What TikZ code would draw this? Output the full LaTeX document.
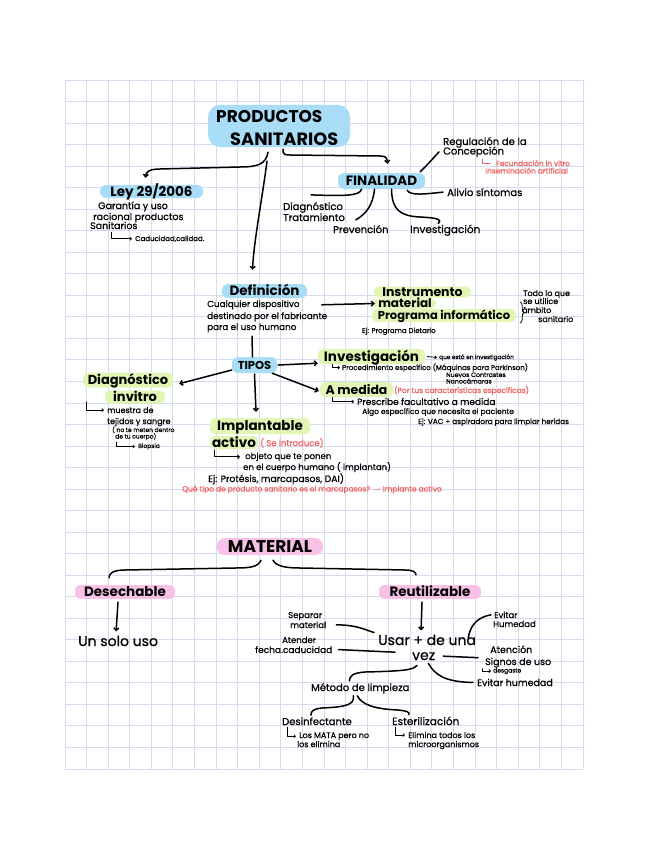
\documentclass[tikz,border=0pt]{standalone}
\usepackage{fontspec}
\setmainfont{Poppins}
\newfontfamily\hw{Poppins}[FakeBold=0.6]
\usetikzlibrary{arrows.meta,decorations.pathreplacing}
\newcommand\myfs[1]{\fontsize{#1}{#1}\selectfont}
\definecolor{hlblue}{HTML}{A9DDF7}
\definecolor{hlgreen}{HTML}{E2F5B5}
\definecolor{hlpink}{HTML}{F8C2E8}
\definecolor{redtxt}{HTML}{F0605F}
\definecolor{gridc}{HTML}{D3DCEE}
\begin{document}
\begin{tikzpicture}[x=1pt,y=-1pt,
  pill/.style={inner sep=0pt, text depth=0pt, align=center},
  bl/.style={pill, fill=hlblue, rounded corners=6pt},
  gr/.style={pill, fill=hlgreen, rounded corners=5pt},
  pk/.style={pill, fill=hlpink, rounded corners=6pt},
  txt/.style={inner sep=0pt, anchor=base west},
  red/.style={text=redtxt},
  con/.style={line width=1.5pt, line cap=round, line join=round},
  thin/.style={line width=0.8pt, line cap=round, line join=round},
  arr/.style={-{Straight Barb[length=2.5pt,width=5pt]}},
  sarr/.style={-{Straight Barb[length=1.6pt,width=3pt]}}
]
\useasboundingbox (0,0) rectangle (648,848);
\fill[white] (0,0) rectangle (648,848);
% grid
\foreach \i in {0,...,24} \draw[gridc, line width=0.9pt] (65+\i*21.583,80) -- (65+\i*21.583,769);
\foreach \j in {0,...,32} \draw[gridc, line width=0.9pt] (65,80+\j*21.531) -- (583,80+\j*21.531);

% ---------- title
\node[pill, fill=hlblue, rounded corners=12pt, minimum width=142pt, minimum height=42pt] (title) at (279,126) {};
\node[txt, font=\bfseries\myfs{17}] (t1) at (216,123) {PRODUCTOS};
\node[txt, font=\bfseries\myfs{17.8}] (t2) at (230,145) {SANITARIOS};

% ---------- Ley
\node[bl, minimum width=103pt, minimum height=13pt, text height=9.5pt, font=\bfseries\myfs{13.5}] (ley) at (151.5,191.5) {Ley 29/2006};
\node[txt, font=\hw\myfs{9.5}] (g1) at (98,209) {Garantía y uso};
\node[txt, font=\hw\myfs{9.5}] (g2) at (93,220) {racional productos};
\node[txt, font=\hw\myfs{9.5}] (g3) at (90,229) {Sanitarios};
\node[txt, font=\hw\myfs{7}] (cad) at (135,241) {Caducidad,calidad.};

% ---------- Finalidad
\node[bl, minimum width=87pt, minimum height=16pt, text height=9.6pt, font=\bfseries\myfs{13.5}] (fin) at (381.5,181) {FINALIDAD};
\node[txt, font=\hw\myfs{10}] (reg1) at (443,145) {Regulación de la};
\node[txt, font=\hw\myfs{10}] (reg2) at (443,154.5) {Concepción};
\node[txt, red, font=\hw\myfs{7.3}] (fec) at (496,166) {Fecundación in vitro};
\node[txt, red, font=\hw\myfs{7.5}] (ins) at (485,173.5) {Inseminación artificial};
\node[txt, font=\hw\myfs{10}] (aliv) at (447,196) {Alivio síntomas};
\node[txt, font=\hw\myfs{10}] (fdiag) at (283,210) {Diagnóstico};
\node[txt, font=\hw\myfs{10}] (ftrat) at (283,221) {Tratamiento};
\node[txt, font=\hw\myfs{10}] (prev) at (333,233) {Prevención};
\node[txt, font=\hw\myfs{10.5}] (finv) at (410,233) {Investigación};

% ---------- Definicion
\node[bl, minimum width=85pt, minimum height=14pt, text height=9.5pt, font=\bfseries\myfs{13.5}] (def) at (264.5,291) {Definición};
\node[txt, font=\hw\myfs{8.8}] (dl1) at (207,307) {Cualquier dispositivo};
\node[txt, font=\hw\myfs{8.8}] (dl2) at (207,319) {destinado por el fabricante};
\node[txt, font=\hw\myfs{8.8}] (dl3) at (207,330) {para el uso humano};

\node[gr, minimum width=97pt, minimum height=11pt, text height=8.6pt, font=\bfseries\myfs{12.5}] (instr1) at (422.5,292) {Instrumento};
\node[gr, minimum width=62pt, minimum height=9.5pt, text height=8.3pt, font=\bfseries\myfs{12}] (instr2) at (405,303.5) {material};
\node[gr, minimum width=144pt, minimum height=13pt, text height=8pt, font=\bfseries\myfs{11.5}] (instr3) at (444,315.5) {Programa informático};
\node[txt, font=\hw\myfs{8}] (todo1) at (523,296) {Todo lo que};
\node[txt, font=\hw\myfs{8}] (todo2) at (523,304) {se utilice};
\node[txt, font=\hw\myfs{8}] (todo3) at (522,313) {ámbito};
\node[txt, font=\hw\myfs{8}] (todo4) at (538,322) {sanitario};
\node[txt, font=\hw\myfs{7}] (ejp) at (362,333) {Ej: Programa Dietario};
\draw[thin, decorate, decoration={brace, amplitude=4pt}] ([xshift=4pt,yshift=7pt]instr3.north east) -- ([xshift=4pt,yshift=-1pt]instr3.south east);

% ---------- Tipos
\node[bl, minimum width=45pt, minimum height=16pt, text height=8.3pt, font=\bfseries\myfs{11.5}] (tipos) at (254.5,365) {TIPOS};

\node[gr, minimum width=107pt, minimum height=15pt, text height=9.6pt, font=\bfseries\myfs{13.5}] (inv) at (371.5,356.5) {Investigación};
\node[txt, font=\hw\myfs{5.8}] (qinv) at (439,359) {que está en investigación};
\node[txt, font=\hw\myfs{7}] (proc) at (342,370) {Procedimiento específico (Máquinas para Parkinson)};
\node[txt, font=\hw\myfs{6.3}] (nue) at (446,377) {Nuevos Contrastes};
\node[txt, font=\hw\myfs{6.3}] (nano) at (446,383.5) {Nanocámaras};

\node[gr, minimum width=73pt, minimum height=15pt, text height=9pt, font=\bfseries\myfs{12.5}] (amed) at (356.5,389.5) {A medida};
\node[txt, red, font=\hw\myfs{7.5}] (por) at (394,393) {(Por tus características específicas)};
\node[txt, font=\hw\myfs{9}] (presc) at (357,405) {Prescribe facultativo a medida};
\node[txt, font=\hw\myfs{7.5}] (algo) at (362,414) {Algo específico que necesita el paciente};
\node[txt, font=\hw\myfs{7.3}] (ejvac) at (418,424) {Ej: VAC + aspiradora para limpiar heridas};

\node[gr, minimum width=90pt, minimum height=15pt, text height=9.3pt, font=\bfseries\myfs{13}] (diag1) at (128,380) {Diagnóstico};
\node[gr, minimum width=60pt, minimum height=13pt, text height=9.3pt, font=\bfseries\myfs{13}] (diag2) at (135,397) {invitro};
\node[txt, font=\hw\myfs{8}] (mue) at (107,413) {muestra de};
\node[txt, font=\hw\myfs{8}] (tej) at (107,424) {tejidos y sangre};
\node[txt, font=\hw\myfs{6}] (cue1) at (112,432) {( no te meten dentro};
\node[txt, font=\hw\myfs{6}] (cue2) at (115,438.5) {de tu cuerpo)};
\node[txt, font=\hw\myfs{6}] (bio) at (138,448) {Biopsia};

\node[gr, minimum width=100pt, minimum height=16pt, text height=9.7pt, font=\bfseries\myfs{13.5}] (impl1) at (260,426) {Implantable};
\node[gr, minimum width=48pt, minimum height=13pt, text height=9.7pt, font=\bfseries\myfs{13.5}] (impl2) at (234,442.5) {activo};
\node[txt, red, font=\hw\myfs{8.5}] (seint) at (260,446) {( Se introduce)};
\node[txt, font=\hw\myfs{8.5}] (obj) at (245,459) {objeto que te ponen};
\node[txt, font=\hw\myfs{8.5}] (encu) at (243,470) {en el cuerpo humano ( implantan)};
\node[txt, font=\hw\myfs{9.3}] (ejpro) at (208,482) {Ej: Protésis, marcapasos, DAI)};
\node[txt, red, font=\hw\myfs{7.5}] (que) at (182,491.5) {Qué tipo de producto sanitario es el marcapasos? $\rightarrow$ Implante activo};

% ---------- Material
\node[pk, minimum width=106pt, minimum height=17pt, text height=12.2pt, rounded corners=8pt, font=\bfseries\myfs{17}] (mat) at (270,546.5) {MATERIAL};
\node[pk, minimum width=100pt, minimum height=14pt, text height=9.5pt, font=\bfseries\myfs{13.5}] (desech) at (125,592) {Desechable};
\node[pk, minimum width=102pt, minimum height=14pt, text height=9.5pt, font=\bfseries\myfs{13.5}] (reut) at (430,592) {Reutilizable};
\node[txt, font=\hw\myfs{14}] (uno) at (78,646) {Un solo uso};
\node[txt, font=\hw\myfs{14}] (usar1) at (378,645) {Usar + de una};
\node[txt, font=\hw\myfs{14}] (vez) at (412,660) {vez};
\node[txt, font=\hw\myfs{8.5}] (sep1) at (288,618) {Separar};
\node[txt, font=\hw\myfs{8.5}] (sep2) at (290,628) {material};
\node[txt, font=\hw\myfs{8.5}] (ate1) at (282,643) {Atender};
\node[txt, font=\hw\myfs{9}] (ate2) at (255,653) {fecha.caducidad};
\node[txt, font=\hw\myfs{8.5}] (ev1) at (494,618) {Evitar};
\node[txt, font=\hw\myfs{8.5}] (ev2) at (493,627) {Humedad};
\node[txt, font=\hw\myfs{9.5}] (aten) at (490,653) {Atención};
\node[txt, font=\hw\myfs{9.5}] (sig) at (485,665) {Signos de uso};
\node[txt, font=\hw\myfs{6}] (desg) at (493,672.5) {desgaste};
\node[txt, font=\hw\myfs{9.5}] (evh) at (477,686) {Evitar humedad};
\node[txt, font=\hw\myfs{10}] (met) at (311,691) {Método de limpieza};
\node[txt, font=\hw\myfs{10}] (desinf) at (282,725) {Desinfectante};
\node[txt, font=\hw\myfs{8}] (los1) at (299,738) {Los MATA pero no};
\node[txt, font=\hw\myfs{8}] (los2) at (297,747) {los elimina};
\node[txt, font=\hw\myfs{10.5}] (ester) at (392,725) {Esterilización};
\node[txt, font=\hw\myfs{8}] (elim1) at (408,738) {Elimina todos los};
\node[txt, font=\hw\myfs{8}] (elim2) at (408,747) {microorganismos};

% ================= connectors
% title
\draw[con, arr] ([xshift=-11pt,yshift=-5pt]title.south) .. controls (266,164) and (258,167) .. (240,167) -- (160,169) .. controls (149,169) and (146,172) .. ([xshift=-6pt,yshift=7pt]ley.north);
\draw[con, arr] ([xshift=-12pt,yshift=-14pt]title.south) .. controls (262,200) and (254,240) .. ([xshift=-12pt,yshift=14pt]def.north);
\draw[con, arr] ([xshift=4pt,yshift=-2pt]title.south) -- (283,152) .. controls (283,154) and (285,155) .. (290,155) -- (380,156) .. controls (386,156) and (387,158) .. ([xshift=6pt,yshift=9pt]fin.north);
% finalidad
\draw[con] ([xshift=-5pt,yshift=1pt]fin.north east) .. controls (428,164) .. ([xshift=-4pt]reg2.west);
\draw[con] ([xshift=-18pt,yshift=-1pt]fin.south east) .. controls (410,196) and (425,194) .. ([xshift=-4pt]aliv.west);
\draw[con] ([xshift=-20pt]fin.south) .. controls (360,196) and (345,196) .. ([xshift=-2pt,yshift=7pt]fdiag.north);
\draw[con] ([xshift=-7pt]fin.south) .. controls (373,205) and (366,214) .. ([xshift=-5pt,yshift=5pt]prev.north);
\draw[con] ([xshift=10pt]fin.south) .. controls (392,210) and (400,216) .. (420,217) .. controls (440,218) and (442,220) .. ([xshift=-7pt,yshift=1pt]finv.north);
\draw[thin, draw=redtxt] ([xshift=39pt,yshift=-2pt]reg2.south west) |- ([xshift=-6pt]fec.west);
\draw[thin, sarr] ([xshift=21pt,yshift=-3pt]g3.south west) |- ([xshift=-3pt]cad.west);
% definicion
\draw[con, arr] ([xshift=22pt]dl1.east) -- ([xshift=1pt]instr2.west);
\draw[con] ([xshift=-12.5pt,yshift=-38pt]def.south) -- ([xshift=-2pt]tipos.north);
% tipos
\draw[con, arr] ([xshift=1pt]tipos.east) -- ([yshift=1pt]inv.south west);
\draw[con, arr] ([yshift=-5pt]tipos.west) -- ([xshift=6pt,yshift=4pt]diag1.south east);
\draw[con, arr] ([yshift=-1pt]tipos.south) -- ([xshift=-4pt,yshift=6pt]impl1.north);
\draw[con, arr] ([xshift=-5pt]tipos.south east) -- ([xshift=-1pt,yshift=-1.5pt]amed.west);
\draw[thin, sarr] ([xshift=2pt]inv.east) -- ([xshift=-2pt]qinv.west);
\draw[thin, sarr] ([xshift=15pt]inv.south west) |- ([xshift=-2pt]proc.west);
\draw[thin, sarr] ([xshift=13pt]amed.south west) |- ([xshift=-3pt]presc.west);
\draw[thin, sarr] ([xshift=4pt,yshift=-14pt]diag1.south west) |- ([xshift=-3pt]mue.west);
\draw[thin, sarr] ([xshift=1pt,yshift=-2pt]cue2.south west) |- ([xshift=-3pt]bio.west);
\draw[con, line width=1.1pt, sarr] ([xshift=5pt,yshift=-1pt]impl2.south west) |- ([xshift=-5pt]obj.west);
% material
\draw[con] ([xshift=-9pt,yshift=-5pt]mat.south) .. controls (258,567) and (250,568) .. (235,568) -- (125,570) .. controls (112,570) and (109,574) .. ([xshift=-16pt,yshift=7pt]desech.north);
\draw[con] ([xshift=3pt,yshift=-5pt]mat.south) .. controls (276,566) and (285,568) .. (300,568) -- (405,570) .. controls (413,570) and (416,572) .. ([xshift=-14pt,yshift=10pt]reut.north);
\draw[con, arr] ([xshift=-7pt,yshift=-3pt]desech.south) -- ([xshift=-2pt,yshift=4pt]uno.north);
\draw[con, arr] ([xshift=-8pt,yshift=-3pt]reut.south) -- ([xshift=-6pt,yshift=4pt]usar1.north);
% usar
\draw[con] ([xshift=10pt]sep2.east) .. controls (358,625) and (365,630) .. ([xshift=-4pt,yshift=2pt]usar1.north west);
\draw[con] ([xshift=6pt]ate2.east) -- ([xshift=-17pt,yshift=4pt]vez.west);
\draw[con] ([xshift=-8pt,yshift=-4pt]usar1.north east) .. controls (470,625) and (478,617) .. ([xshift=-3pt]ev1.west);
\draw[con] ([xshift=8pt]vez.east) -- ([xshift=-7pt,yshift=5pt]sig.west);
\draw[con] ([xshift=-7pt,yshift=-3pt]vez.south east) .. controls (435,675) and (445,682) .. ([xshift=-4pt]evh.west);
\draw[con] ([xshift=5pt,yshift=-5pt]vez.south west) .. controls (413,670) and (405,671) .. (365,672) .. controls (352,673) and (350,676) .. ([xshift=-11pt,yshift=2pt]met.north);
\draw[thin, sarr] ([xshift=-3pt,yshift=-1pt]sig.south west) |- ([xshift=-2pt]desg.west);
% metodo
\draw[con] ([xshift=-7pt,yshift=-2pt]met.south) .. controls (355,705) and (345,707) .. (322,708) .. controls (313,709) and (311,711) .. ([xshift=-6pt,yshift=2pt]desinf.north);
\draw[con] ([xshift=-3pt,yshift=-2pt]met.south) .. controls (362,705) and (375,709) .. (398,710) .. controls (407,711) and (410,712) .. ([xshift=-17pt,yshift=2pt]ester.north);
\draw[thin, sarr] ([xshift=5pt,yshift=-2pt]desinf.south west) |- ([xshift=-3pt]los1.west);
\draw[thin, sarr] ([xshift=3pt,yshift=-2pt]ester.south west) |- ([xshift=-3pt]elim1.west);
\end{tikzpicture}
\end{document}
